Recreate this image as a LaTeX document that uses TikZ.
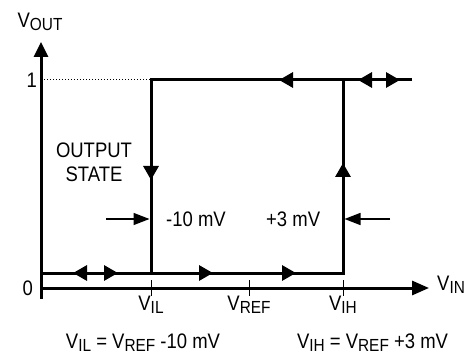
\documentclass[tikz,border=0pt]{standalone}
\usepackage{fontspec}
\setmainfont{Liberation Sans}[FakeStretch=0.88]
\usetikzlibrary{arrows.meta,decorations.markings}
\newcommand{\lo}[1]{\raisebox{-0.3ex}{\fontsize{17.5}{17.5}\selectfont #1}}
\tikzset{
  head/.tip={Triangle[length=14pt,width=15pt]},
  txt/.style={inner sep=0pt, font=\fontsize{21}{24}\selectfont},
  trace/.style={line width=3pt, postaction={decorate}},
}
\begin{document}
\begin{tikzpicture}[x=10pt, y=10pt]
\useasboundingbox (-4.1,-6.8) rectangle (43.5,28.8);

% Corners of the loop
\coordinate (o) at (0,0);
\coordinate (hiY) at (0,20.8);
\coordinate (hiIL) at (11,20.8);
\coordinate (hiIH) at (30.2,20.8);
\coordinate (hiEnd) at (37.1,20.8);
\coordinate (loY) at (0,1.5);
\coordinate (loIL) at (11,1.5);
\coordinate (loIH) at (30.2,1.5);

% Axes
\draw[line width=3pt, -{Triangle[length=15pt,width=14pt]}] (0,-1.1) -- (0,24.6) coordinate (ytop);
\draw[line width=3pt, -{Triangle[length=17pt,width=14pt]}] (o) -- (38.8,0) coordinate (xend);
\draw[line width=1pt, dotted] (hiY) -- (hiIL);

% Ticks
\foreach \x/\n in {11/il, 20.8/ref, 30.2/ih}
  \draw[line width=1pt] (\x,0.8) -- (\x,-0.8) coordinate (t\n);

% Upper branch, then down at V_IL
\draw[trace, decoration={markings,
    mark=at position 54pt with {\arrow{head}},
    mark=at position 12pt with {\arrowreversed{head}},
    mark=at position 133pt with {\arrow{head}},
    mark=at position 361pt with {\arrow{head}}}]
  (hiEnd) -- (hiIL) -- (loIL);

% Lower branch, then up at V_IH
\draw[trace, decoration={markings,
    mark=at position 32pt with {\arrowreversed{head}},
    mark=at position 77pt with {\arrow{head}},
    mark=at position 172pt with {\arrow{head}},
    mark=at position 255pt with {\arrow{head}},
    mark=at position 412pt with {\arrow{head}}}]
  (loY) -- (loIH) -- (hiIH);

% Threshold offsets
\coordinate (offL) at (6.5,6.9);
\coordinate (offR) at (34.9,6.9);
\draw[line width=1.5pt, -{Triangle[length=16pt,width=12pt]}] (offL) -- (10.85,6.9);
\draw[line width=1.5pt, -{Triangle[length=16pt,width=12pt]}] (offR) -- (30.35,6.9);

% Labels
\node[txt] (vout) at (-0.1,26.6) {V\lo{OUT}};
\node[txt, anchor=east] (one) at (-0.4,20.8) {1};
\node[txt, anchor=east] (zero) at (-0.8,0) {0};
\node[txt, align=center] (state) at (5.3,12.55) {OUTPUT\\STATE};
\node[txt, anchor=west] (minus) at (12.5,6.9) {-10 mV};
\node[txt, anchor=west] (plus) at (22.5,6.9) {+3 mV};
\node[txt, anchor=west] (vin) at (39.6,0.3) {V\lo{IN}};
\node[txt, anchor=north] (vil) at (til) {V\lo{IL}};
\node[txt, anchor=north] (vref) at (tref) {V\lo{REF}};
\node[txt, anchor=north] (vih) at (tih) {V\lo{IH}};
\node[txt] (eqil) at (10.2,-5.5) {V\lo{IL} = V\lo{REF} -10 mV};
\node[txt] (eqih) at (33.15,-5.5) {V\lo{IH} = V\lo{REF} +3 mV};
\end{tikzpicture}
\end{document}
